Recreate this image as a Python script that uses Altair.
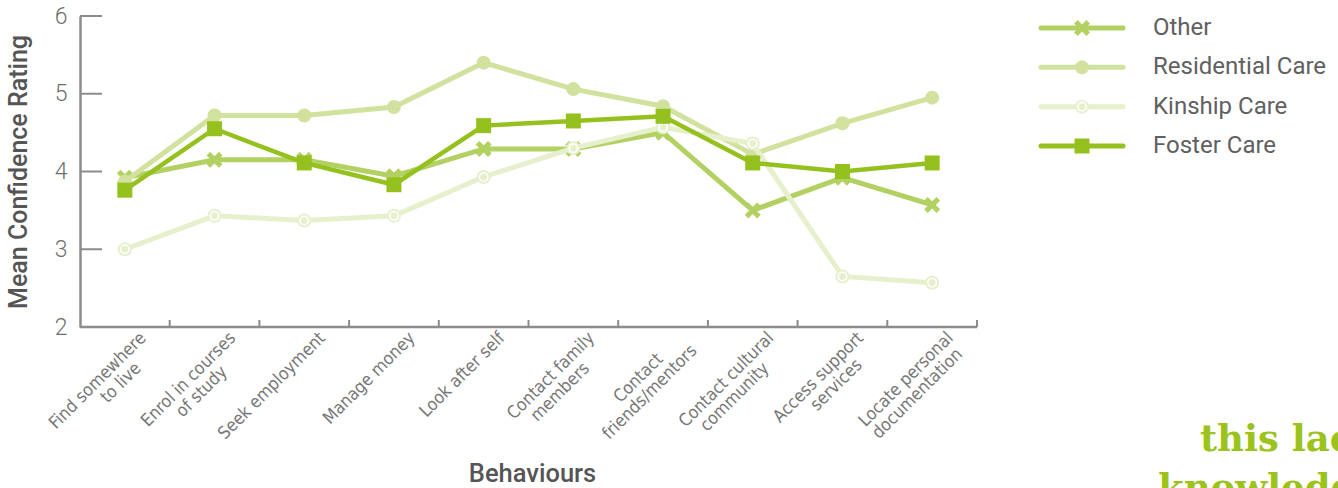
import altair as alt
import pandas as pd

# Behaviours along the x axis ("\n" marks a line break in the tick label)
behaviours = [
    "Find somewhere\nto live",
    "Enrol in courses\nof study",
    "Seek employment",
    "Manage money",
    "Look after self",
    "Contact family\nmembers",
    "Contact\nfriends/mentors",
    "Contact cultural\ncommunity",
    "Access support\nservices",
    "Locate personal\ndocumentation",
]

# Mean confidence rating per care type
other = [3.92, 4.15, 4.15, 3.94, 4.29, 4.29, 4.50, 3.50, 3.92, 3.57]
residential = [3.87, 4.72, 4.72, 4.83, 5.40, 5.06, 4.84, 4.22, 4.62, 4.95]
kinship = [3.00, 3.43, 3.37, 3.43, 3.93, 4.30, 4.57, 4.36, 2.65, 2.57]
foster = [3.76, 4.55, 4.11, 3.83, 4.59, 4.65, 4.71, 4.11, 4.00, 4.11]

series_names = ["Other", "Residential Care", "Kinship Care", "Foster Care"]
series_colors = ["#b2d162", "#d1e29e", "#e7f0cd", "#95c11f"]
y_ticks = [3, 4, 5, 6]

W, H = 897, 311
AXIS_GREY = "#8c8c8c"
TEXT_GREY = "#6f6f6f"

values = {"Other": other, "Residential Care": residential,
          "Kinship Care": kinship, "Foster Care": foster}
rows = []
for name in series_names:
    for b, v in zip(behaviours, values[name]):
        rows.append({"behaviour": b, "series": name, "rating": v})
df = pd.DataFrame(rows)

# X-shaped marker drawn as a custom symbol path
X_PATH = ("M-1,-0.55L-0.55,-1L0,-0.45L0.55,-1L1,-0.55L0.45,0L1,0.55"
          "L0.55,1L0,0.45L-0.55,1L-1,0.55L-0.45,0Z")

x_scale = alt.Scale(type="band", domain=behaviours, paddingInner=0, paddingOuter=0)
y_scale = alt.Scale(domain=[2, 6], nice=False, zero=False)
color_scale = alt.Scale(domain=series_names, range=series_colors)

y_axis = alt.Axis(
    title="Mean Confidence Rating", values=[2, 3, 4, 5, 6], ticks=False,
    grid=False, domainColor=AXIS_GREY, domainWidth=2.5,
    labelPadding=13, labelFont="Roboto", labelFontWeight=300,
    labelFontSize=23, labelColor=TEXT_GREY,
    titleFont="Roboto", titleFontSize=25, titleFontWeight=500,
    titleColor="#555555", titleAngle=270, titleX=-62, titleY=H / 2,
    titleBaseline="middle", titleAlign="center",
)

base = alt.Chart(df)
Xn = alt.X("behaviour:N", scale=x_scale, sort=behaviours, axis=None)
Y = alt.Y("rating:Q", scale=y_scale, axis=y_axis)
Yn = alt.Y("rating:Q", scale=y_scale, axis=None)
C = alt.Color("series:N", scale=color_scale, legend=None)

layers = []

# x axis base line
layers.append(alt.Chart(pd.DataFrame({"behaviour": behaviours[:1]})).mark_rule(
    color=AXIS_GREY, strokeWidth=2.5).encode(
    x=alt.value(0), x2=alt.value(W), y=alt.value(H)))

for i, name in enumerate(series_names):
    s = base.transform_filter(alt.datum.series == name)
    lw = 4.5 if name == "Foster Care" else 5
    # the first line layer carries the y axis
    yy = Y if i == 0 else Yn
    layers.append(s.mark_line(strokeWidth=lw).encode(x=Xn, y=yy, color=C))
    if name == "Other":
        layers.append(s.mark_point(shape=X_PATH, size=256, filled=True, opacity=1)
                      .encode(x=Xn, y=Yn, color=C))
    elif name == "Residential Care":
        layers.append(s.mark_point(shape="circle", size=196, filled=True, opacity=1)
                      .encode(x=Xn, y=Yn, color=C))
    elif name == "Kinship Care":
        layers.append(s.mark_point(shape="circle", size=196, filled=True, opacity=1)
                      .encode(x=Xn, y=Yn, color=C))
        layers.append(s.mark_point(shape="circle", size=72, filled=True, opacity=1,
                                   stroke="white", strokeWidth=1.6)
                      .encode(x=Xn, y=Yn, color=C))
    else:
        layers.append(s.mark_point(shape="square", size=225, filled=True, opacity=1)
                      .encode(x=Xn, y=Yn, color=C))

# upward ticks at the band boundaries of the x axis
tick_df = pd.DataFrame({"behaviour": behaviours})
layers.append(alt.Chart(tick_df).mark_rule(color=AXIS_GREY, strokeWidth=2).encode(
    x=alt.X("behaviour:N", scale=x_scale, sort=behaviours, axis=None, bandPosition=1),
    y=alt.value(H), y2=alt.value(H - 7)))

# rotated category labels; the shorter of two lines is trailed with no-break
# spaces (closed by a zero-width space so they are not trimmed away) so that
# it sits centred under the longer one
NB = "\u00a0" * 40
ZW = "\u200b"
L1 = "split(datum.behaviour, '\\n')[0]"
L2 = "split(datum.behaviour, '\\n')[1]"
label_expr = (
    "indexof(datum.behaviour, '\\n') < 0 ? datum.behaviour : ("
    f"{L1} + slice('{NB}', 0, floor(max(0, length({L2}) - length({L1})) * 0.8)) + '{ZW}' + '\\n' + "
    f"{L2} + slice('{NB}', 0, floor(max(0, length({L1}) - length({L2})) * 0.8)) + '{ZW}')"
)
layers.append(alt.Chart(tick_df).transform_calculate(txt=label_expr).mark_text(
    angle=315, align="right", baseline="top", lineBreak="\n", lineHeight=18,
    font="DejaVu Sans Condensed, Liberation Sans Narrow, Roboto",
    fontSize=17.5, color="#777777", dx=7, dy=10).encode(
    x=Xn, y=alt.value(H), text="txt:N"))

# x axis title
layers.append(alt.Chart(pd.DataFrame({"t": ["Behaviours"]})).mark_text(
    font="Roboto", fontSize=25.5, fontWeight=500, color="#555555",
    baseline="middle", align="center").encode(
    x=alt.value(W / 2 + 4), y=alt.value(458), text="t:N"))

# inward ticks on the y axis
ytick_df = pd.DataFrame({"rating": y_ticks})
layers.append(alt.Chart(ytick_df).mark_rule(color=AXIS_GREY, strokeWidth=2).encode(
    y=Yn, x=alt.value(0), x2=alt.value(22)))

# legend block on the right
leg_df = pd.DataFrame({"series": series_names})
LY = alt.Y("series:N", sort=series_names, axis=None,
           scale=alt.Scale(type="point", domain=series_names, range=[12, 130], padding=0))
leg = alt.Chart(leg_df)
layers.append(leg.mark_rule(strokeWidth=5, strokeCap="round").encode(
    y=LY, x=alt.value(961), x2=alt.value(1043), color=C))
for name, shape, size in [("Other", X_PATH, 256), ("Residential Care", "circle", 196),
                          ("Kinship Care", "circle", 196), ("Foster Care", "square", 225)]:
    layers.append(leg.transform_filter(alt.datum.series == name)
                  .mark_point(shape=shape, size=size, filled=True, opacity=1)
                  .encode(y=LY, x=alt.value(1002), color=C))
layers.append(leg.transform_filter(alt.datum.series == "Kinship Care")
              .mark_point(shape="circle", size=72, filled=True, opacity=1,
                          stroke="white", strokeWidth=1.6)
              .encode(y=LY, x=alt.value(1002), color=C))
layers.append(leg.mark_text(align="left", baseline="middle", font="Roboto",
                            fontSize=24, color="#606060").encode(
    y=LY, x=alt.value(1073), text="series:N"))

# pull-quote text running off the lower right corner
quote_df = pd.DataFrame({"line": ["this lack of", "knowledge"], "row": [0, 1]})
QY = alt.Y("row:O", axis=None,
           scale=alt.Scale(type="point", domain=[0, 1], range=[435, 484], padding=0))
q = alt.Chart(quote_df)
layers.append(q.transform_filter(alt.datum.row == 0)
              .mark_text(align="left", baseline="alphabetic", font="DejaVu Serif",
                         fontWeight="bold", fontSize=37, color="#9cc31b")
              .encode(y=QY, x=alt.value(1120), text="line:N"))
layers.append(q.transform_filter(alt.datum.row == 1)
              .mark_text(align="left", baseline="alphabetic", font="DejaVu Serif",
                         fontWeight="bold", fontSize=37, color="#9cc31b")
              .encode(y=QY, x=alt.value(1078), text="line:N"))

chart = alt.layer(*layers).resolve_scale(y="independent").properties(
    width=W, height=H,
    autosize=alt.AutoSizeParams(type="none"),
    padding={"left": 80, "top": 16, "right": 1338 - 80 - W, "bottom": 488 - 16 - H},
    background="white",
).configure_view(stroke=None)

chart.save("out.html", embed_options={"renderer": "svg", "actions": False})
